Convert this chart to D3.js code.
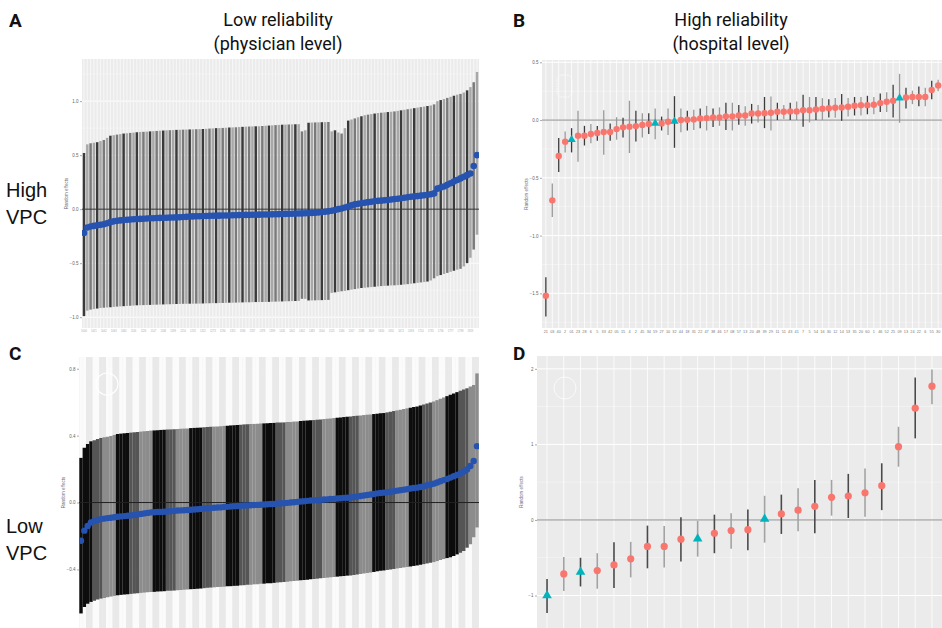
<!DOCTYPE html>
<html><head><meta charset="utf-8">
<script src="https://cdn.jsdelivr.net/npm/d3@7"></script>
<style>body{margin:0;background:#fff}svg{display:block}</style>
</head><body>
<svg id="c" width="942" height="628"></svg>
<script>
// ---------- DATA ----------
// Panel A: physician level, high VPC (estimate, lower, upper)
const aEst = [-0.22,-0.17,-0.16,-0.155,-0.15,-0.145,-0.14,-0.13,-0.12,-0.113,
-0.108,-0.104,-0.1,-0.098,-0.096,-0.094,-0.092,-0.09,-0.089,-0.087,
-0.085,-0.084,-0.082,-0.081,-0.08,-0.079,-0.078,-0.077,-0.076,-0.075,
-0.073,-0.071,-0.069,-0.067,-0.066,-0.065,-0.064,-0.063,-0.062,-0.061,
-0.06,-0.06,-0.059,-0.058,-0.058,-0.057,-0.056,-0.055,-0.054,-0.053,
-0.053,-0.052,-0.052,-0.051,-0.05,-0.05,-0.049,-0.048,-0.047,-0.046,
-0.045,-0.044,-0.043,-0.042,-0.041,-0.04,-0.039,-0.038,-0.037,-0.035,
-0.033,-0.03,-0.027,-0.024,-0.02,-0.014,-0.008,0.0,0.006,0.015,
0.025,0.035,0.044,0.05,0.055,0.06,0.065,0.069,0.073,0.077,
0.079,0.082,0.085,0.089,0.093,0.097,0.101,0.105,0.11,0.115,
0.118,0.121,0.125,0.129,0.133,0.138,0.146,0.19,0.2,0.21,
0.225,0.24,0.255,0.27,0.285,0.3,0.315,0.33,0.4,0.5];
const aHi = [0.52,0.6,0.61,0.615,0.62,0.63,0.64,0.66,0.68,0.685,
0.69,0.695,0.7,0.703,0.706,0.709,0.712,0.715,0.716,0.718,
0.72,0.722,0.724,0.726,0.728,0.73,0.731,0.732,0.734,0.735,
0.736,0.737,0.738,0.739,0.74,0.741,0.742,0.744,0.746,0.748,
0.75,0.751,0.752,0.754,0.756,0.757,0.758,0.76,0.762,0.764,
0.765,0.766,0.767,0.768,0.77,0.772,0.774,0.776,0.778,0.78,
0.782,0.783,0.784,0.785,0.786,0.787,0.72,0.73,0.8,0.802,
0.803,0.804,0.805,0.806,0.807,0.72,0.73,0.71,0.7,0.75,
0.82,0.83,0.84,0.85,0.86,0.87,0.875,0.88,0.885,0.89,
0.893,0.896,0.899,0.902,0.905,0.91,0.915,0.92,0.925,0.93,
0.935,0.94,0.945,0.95,0.955,0.96,0.97,1.0,1.01,1.02,
1.03,1.04,1.05,1.06,1.067,1.08,1.1,1.13,1.175,1.27];
const aLo = [-0.99,-0.94,-0.93,-0.925,-0.92,-0.915,-0.912,-0.91,-0.908,-0.905,
-0.902,-0.9,-0.898,-0.896,-0.894,-0.892,-0.89,-0.889,-0.888,-0.887,
-0.886,-0.885,-0.884,-0.883,-0.882,-0.881,-0.88,-0.879,-0.878,-0.877,
-0.876,-0.876,-0.875,-0.875,-0.874,-0.874,-0.873,-0.872,-0.871,-0.87,
-0.87,-0.869,-0.868,-0.867,-0.866,-0.866,-0.865,-0.864,-0.863,-0.862,
-0.862,-0.861,-0.86,-0.86,-0.859,-0.859,-0.858,-0.857,-0.856,-0.855,
-0.854,-0.853,-0.852,-0.851,-0.85,-0.849,-0.83,-0.83,-0.845,-0.845,
-0.844,-0.843,-0.842,-0.841,-0.84,-0.775,-0.77,-0.765,-0.76,-0.757,
-0.75,-0.745,-0.74,-0.735,-0.73,-0.727,-0.724,-0.721,-0.718,-0.715,
-0.712,-0.71,-0.708,-0.706,-0.705,-0.703,-0.7,-0.697,-0.694,-0.69,
-0.686,-0.682,-0.678,-0.675,-0.67,-0.66,-0.64,-0.62,-0.61,-0.6,
-0.59,-0.58,-0.57,-0.56,-0.552,-0.53,-0.5,-0.45,-0.374,-0.236];

// Panel C: physician level, low VPC
const cEst = [-0.228,-0.168,-0.14,-0.119,-0.11,-0.104,-0.099,-0.096,-0.093,-0.091,
-0.088,-0.085,-0.083,-0.081,-0.079,-0.077,-0.074,-0.071,-0.068,-0.065,
-0.062,-0.059,-0.058,-0.057,-0.056,-0.055,-0.053,-0.052,-0.05,-0.048,
-0.047,-0.046,-0.045,-0.043,-0.042,-0.04,-0.038,-0.036,-0.034,-0.032,
-0.031,-0.03,-0.029,-0.027,-0.026,-0.024,-0.022,-0.021,-0.019,-0.018,
-0.017,-0.016,-0.015,-0.014,-0.013,-0.012,-0.01,-0.009,-0.008,-0.006,
-0.005,-0.004,-0.002,0.0,0.002,0.004,0.006,0.008,0.01,0.012,
0.013,0.014,0.016,0.018,0.019,0.021,0.022,0.024,0.026,0.028,
0.029,0.03,0.033,0.036,0.039,0.042,0.045,0.048,0.051,0.055,
0.057,0.059,0.062,0.065,0.068,0.071,0.074,0.077,0.08,0.084,
0.087,0.089,0.093,0.098,0.103,0.108,0.113,0.12,0.127,0.134,
0.141,0.149,0.157,0.165,0.174,0.185,0.198,0.218,0.248,0.337];
const cHi = [0.267,0.327,0.35,0.366,0.372,0.38,0.386,0.39,0.394,0.398,
0.404,0.41,0.412,0.414,0.416,0.418,0.42,0.422,0.424,0.426,
0.428,0.43,0.431,0.432,0.434,0.435,0.436,0.437,0.438,0.44,
0.441,0.442,0.443,0.445,0.446,0.447,0.448,0.45,0.451,0.453,
0.454,0.455,0.456,0.458,0.459,0.461,0.462,0.463,0.465,0.467,
0.468,0.469,0.47,0.471,0.472,0.473,0.474,0.475,0.476,0.478,
0.478,0.479,0.481,0.482,0.484,0.485,0.487,0.489,0.49,0.492,
0.493,0.495,0.497,0.499,0.501,0.503,0.505,0.507,0.509,0.511,
0.513,0.515,0.517,0.519,0.521,0.523,0.525,0.527,0.529,0.531,
0.533,0.535,0.539,0.543,0.547,0.551,0.555,0.559,0.563,0.567,
0.571,0.574,0.58,0.586,0.592,0.598,0.604,0.612,0.62,0.628,
0.636,0.644,0.652,0.66,0.668,0.676,0.683,0.693,0.703,0.772];
const cLo = [-0.663,-0.624,-0.605,-0.594,-0.587,-0.58,-0.574,-0.57,-0.566,-0.562,
-0.558,-0.554,-0.552,-0.55,-0.548,-0.546,-0.544,-0.542,-0.54,-0.538,
-0.536,-0.535,-0.534,-0.532,-0.531,-0.53,-0.528,-0.527,-0.526,-0.524,
-0.523,-0.521,-0.52,-0.518,-0.517,-0.515,-0.514,-0.512,-0.51,-0.508,
-0.507,-0.505,-0.504,-0.503,-0.501,-0.5,-0.498,-0.497,-0.495,-0.494,
-0.492,-0.491,-0.489,-0.488,-0.486,-0.485,-0.483,-0.482,-0.48,-0.478,
-0.477,-0.475,-0.473,-0.471,-0.469,-0.467,-0.465,-0.463,-0.461,-0.459,
-0.457,-0.455,-0.453,-0.451,-0.449,-0.447,-0.445,-0.443,-0.441,-0.439,
-0.437,-0.436,-0.433,-0.43,-0.427,-0.424,-0.421,-0.418,-0.415,-0.411,
-0.408,-0.406,-0.403,-0.4,-0.397,-0.394,-0.391,-0.388,-0.385,-0.382,
-0.379,-0.376,-0.372,-0.368,-0.364,-0.36,-0.356,-0.35,-0.344,-0.338,
-0.332,-0.327,-0.32,-0.31,-0.3,-0.29,-0.27,-0.25,-0.208,-0.149];

// Panel B: hospital level, high VPC
const bLabels = ["21","03","40","2","01","23","28","6","5","33","42","05","15","4","2","45","34","59","27","10","32","44","18","31","22","47","38","46","17","08","57","13","20","48","39","29","11","51","43","41","7","5","54","16","30","12","14","53","35","20","60","1","46","52","25","09","13","24","22","6","55","30"];
const bEst = [-1.52,-0.695,-0.31,-0.187,-0.17,-0.135,-0.135,-0.12,-0.112,-0.103,
-0.103,-0.078,-0.063,-0.057,-0.052,-0.043,-0.034,-0.029,-0.029,-0.014,
-0.011,0.0,0.003,0.006,0.014,0.017,0.023,0.023,0.032,0.032,
0.04,0.04,0.057,0.057,0.06,0.063,0.072,0.072,0.075,0.075,
0.086,0.086,0.092,0.098,0.103,0.106,0.109,0.115,0.124,0.129,
0.129,0.132,0.147,0.158,0.167,0.19,0.195,0.2,0.2,0.2,
0.26,0.3];
const bLo = [-1.70,-0.84,-0.45,-0.28,-0.28,-0.36,-0.22,-0.2,-0.18,-0.30,
-0.18,-0.17,-0.15,-0.285,-0.185,-0.15,-0.12,-0.165,-0.09,-0.13,
-0.24,-0.105,-0.09,-0.085,-0.07,-0.09,-0.06,-0.05,-0.087,-0.09,
-0.04,-0.05,-0.03,-0.02,-0.07,-0.09,-0.0,0.01,-0.0,0.0,
-0.058,-0.02,0.0,0.0,0.023,0.02,-0.006,0.03,0.04,0.04,
0.05,0.05,0.07,0.07,0.023,-0.023,0.1,0.138,0.12,0.12,
0.18,0.25];
const bHi = [-1.36,-0.55,-0.155,-0.10,-0.07,0.08,-0.05,-0.035,-0.052,0.086,
-0.03,0.025,0.02,0.167,0.08,0.06,0.06,0.10,0.03,0.1,
0.207,0.1,0.08,0.09,0.1,0.123,0.1,0.11,0.15,0.15,
0.13,0.12,0.14,0.13,0.2,0.205,0.15,0.13,0.15,0.16,
0.22,0.2,0.2,0.19,0.18,0.19,0.225,0.19,0.2,0.2,
0.21,0.2,0.23,0.24,0.305,0.40,0.28,0.255,0.29,0.28,
0.34,0.35];
const bTriangle = [4,17,20,55];

// Panel D: hospital level, low VPC
const dEst = [-1.0,-0.714,-0.69,-0.67,-0.595,-0.515,-0.35,-0.35,-0.255,-0.25,
-0.176,-0.14,-0.128,0.013,0.08,0.13,0.18,0.30,0.317,0.36,
0.454,0.97,1.48,1.77];
const dLo = [-1.23,-0.94,-0.88,-0.91,-0.90,-0.76,-0.64,-0.63,-0.55,-0.485,
-0.44,-0.38,-0.40,-0.30,-0.185,-0.15,-0.176,0.057,0.026,0.044,
0.13,0.705,1.08,1.53];
const dHi = [-0.78,-0.49,-0.50,-0.44,-0.295,-0.29,-0.075,-0.08,0.035,-0.01,
0.07,0.09,0.137,0.32,0.335,0.42,0.53,0.53,0.61,0.68,
0.75,1.233,1.885,1.99];
const dTriangle = [0,2,9,13];

const aTicks = [1.0,0.5,0.0,-0.5,-1.0];
const bTicks = [0.5,0.0,-0.5,-1.0,-1.5];
const cTicks = [0.8,0.4,0.0,-0.4];
const dTicks = [2,1,0,-1];

// ---------- DRAW ----------
const svg = d3.select("#c");
const BLUE = "#2653b0", RED = "#f8766d", TEAL = "#00b3bd";
const tickFont = "Liberation Sans, Arial, sans-serif";

function panel(id, L, R, T, B, ydom, ticks, n, fmt){
  const g = svg.append("g");
  const x = d3.scalePoint().domain(d3.range(n)).range([L, R]).padding(0.6);
  const y = d3.scaleLinear().domain(ydom).range([B, T]);
  svg.append("clipPath").attr("id", id).append("rect")
    .attr("x", L).attr("y", T).attr("width", R - L).attr("height", B - T);
  const inner = g.append("g").attr("clip-path", `url(#${id})`);
  inner.append("rect").attr("x", L).attr("y", T).attr("width", R - L).attr("height", B - T)
    .attr("fill", "#ebebeb");
  const minor = [];
  for (let k = 0; k < ticks.length - 1; k++) minor.push((ticks[k] + ticks[k+1]) / 2);
  minor.push(ticks[0] + (ticks[0] - ticks[1]) / 2);
  minor.push(ticks[ticks.length-1] - (ticks[0] - ticks[1]) / 2);
  inner.selectAll(null).data(minor).join("line")
    .attr("x1", L).attr("x2", R).attr("y1", d => y(d)).attr("y2", d => y(d))
    .attr("stroke", "#fff").attr("stroke-width", 0.5).attr("opacity", 0.8);
  inner.selectAll(null).data(ticks).join("line")
    .attr("x1", L).attr("x2", R).attr("y1", d => y(d)).attr("y2", d => y(d))
    .attr("stroke", "#fff").attr("stroke-width", 1);
  const ax = d3.axisLeft(y).tickValues(ticks).tickSize(2).tickPadding(1.5).tickFormat(fmt);
  const ag = g.append("g").attr("transform", `translate(${L},0)`).call(ax);
  ag.select(".domain").remove();
  ag.selectAll("line").attr("stroke", "#555").attr("stroke-width", 0.5);
  ag.selectAll("text").attr("font-size", 4.5).attr("fill", "#666").attr("font-family", tickFont);
  g.append("text").attr("transform", `translate(${L - 14},${(T + B) / 2}) rotate(-90)`)
    .attr("text-anchor", "middle").attr("font-size", 4.5).attr("fill", "#6a6a80")
    .attr("font-family", tickFont).text("Random effects");
  return {x, y, inner, g};
}

// ---- Panel A ----
{
  const n = aEst.length;
  const p = panel("clipA", 82, 479, 59, 328, [-1.10, 1.39], aTicks, n, d3.format(".1f"));
  const st = p.x.step();
  p.inner.selectAll(null).data(d3.range(n)).join("line")
    .attr("x1", i => p.x(i)).attr("x2", i => p.x(i)).attr("y1", 59).attr("y2", 328)
    .attr("stroke", "#f6f6f6").attr("stroke-width", st * 0.35);
  p.inner.selectAll(null).data(d3.range(n)).join("line")
    .attr("x1", i => p.x(i)).attr("x2", i => p.x(i))
    .attr("y1", i => p.y(aLo[i])).attr("y2", i => p.y(aHi[i]))
    .attr("stroke", i => (i % 4 === 0 ? "#3a3a3a" : (i % 4 === 2 ? "#7a7a7a" : "#a8a8a8")))
    .attr("stroke-width", st * 0.75);
  p.inner.append("line").attr("x1", 82).attr("x2", 479).attr("y1", p.y(0)).attr("y2", p.y(0))
    .attr("stroke", "#333").attr("stroke-width", 1);
  p.inner.selectAll(null).data(d3.range(n)).join("circle")
    .attr("cx", i => p.x(i)).attr("cy", i => p.y(aEst[i])).attr("r", 3.3).attr("fill", BLUE);
  p.g.selectAll(null).data(d3.range(0, n, 3)).join("text")
    .attr("x", i => p.x(i)).attr("y", 332).attr("text-anchor", "middle")
    .attr("font-size", 2.6).attr("fill", "#aaa").attr("font-family", tickFont)
    .text(i => String(1000 + i * 7));
}

// ---- Panel C ----
{
  const n = cEst.length;
  const p = panel("clipC", 79, 479, 357, 628, [-0.75, 0.87], cTicks, n, d3.format(".1f"));
  const st = p.x.step();
  p.inner.selectAll(null).data(d3.range(n)).join("rect")
    .attr("x", i => p.x(i) - st / 2).attr("width", st + 0.1).attr("y", 357).attr("height", 271)
    .attr("fill", i => (i % 4 < 2 ? "#fbfbfb" : "#e9e9e9"));
  p.inner.selectAll(null).data(d3.range(n)).join("line")
    .attr("x1", i => p.x(i)).attr("x2", i => p.x(i))
    .attr("y1", i => p.y(cLo[i])).attr("y2", i => p.y(cHi[i]))
    .attr("stroke", i => { const k = i % 11; return k < 4 ? "#0d0d0d" : (k < 7 ? "#555" : "#8c8c8c"); })
    .attr("stroke-width", st + 0.1);
  p.inner.append("line").attr("x1", 79).attr("x2", 479).attr("y1", p.y(0)).attr("y2", p.y(0))
    .attr("stroke", "#222").attr("stroke-width", 1);
  p.inner.selectAll(null).data(d3.range(n)).join("circle")
    .attr("cx", i => p.x(i)).attr("cy", i => p.y(cEst[i])).attr("r", 3.2).attr("fill", BLUE);
  p.inner.append("circle").attr("cx", 107).attr("cy", 384).attr("r", 11)
    .attr("fill", "none").attr("stroke", "#fff").attr("stroke-width", 1.2).attr("opacity", 0.9);
}

// ---- Panel B ----
{
  const n = bEst.length;
  const p = panel("clipB", 542, 942, 60, 328, [-1.80, 0.52], bTicks, n, d3.format(".1f"));
  p.inner.selectAll(null).data(d3.range(n)).join("line")
    .attr("x1", i => p.x(i)).attr("x2", i => p.x(i)).attr("y1", 60).attr("y2", 328)
    .attr("stroke", "#fff").attr("stroke-width", 0.8);
  p.inner.append("line").attr("x1", 542).attr("x2", 942).attr("y1", p.y(0)).attr("y2", p.y(0))
    .attr("stroke", "#8a8a8a").attr("stroke-width", 1);
  p.inner.selectAll(null).data(d3.range(n)).join("line")
    .attr("x1", i => p.x(i)).attr("x2", i => p.x(i))
    .attr("y1", i => p.y(bLo[i])).attr("y2", i => p.y(bHi[i]))
    .attr("stroke", i => (i % 2 === 0 ? "#3c3c3c" : "#9a9a9a")).attr("stroke-width", 1.3);
  const sym = d3.symbol().type(d3.symbolTriangle).size(30);
  p.inner.selectAll(null).data(d3.range(n).filter(i => !bTriangle.includes(i))).join("circle")
    .attr("cx", i => p.x(i)).attr("cy", i => p.y(bEst[i])).attr("r", 3.2).attr("fill", RED);
  p.inner.selectAll(null).data(bTriangle).join("path").attr("d", sym)
    .attr("transform", i => `translate(${p.x(i)},${p.y(bEst[i])})`).attr("fill", TEAL);
  p.g.selectAll(null).data(d3.range(n)).join("text")
    .attr("x", i => p.x(i)).attr("y", 333).attr("text-anchor", "middle")
    .attr("font-size", 3.8).attr("fill", "#777").attr("font-family", tickFont)
    .text(i => bLabels[i]);
  p.inner.append("rect").attr("x", 557).attr("y", 75).attr("width", 15).attr("height", 22).attr("rx", 5)
    .attr("fill", "none").attr("stroke", "#fff").attr("stroke-width", 0.8).attr("stroke-dasharray", "1.5,1");
}

// ---- Panel D ----
{
  const n = dEst.length;
  const p = panel("clipD", 537, 942, 356, 628, [-1.43, 2.17], dTicks, n, d3.format("d"));
  p.inner.selectAll(null).data(d3.range(n)).join("line")
    .attr("x1", i => p.x(i)).attr("x2", i => p.x(i)).attr("y1", 356).attr("y2", 628)
    .attr("stroke", "#fff").attr("stroke-width", 0.8);
  p.inner.append("line").attr("x1", 537).attr("x2", 942).attr("y1", p.y(0)).attr("y2", p.y(0))
    .attr("stroke", "#8a8a8a").attr("stroke-width", 1);
  p.inner.selectAll(null).data(d3.range(n)).join("line")
    .attr("x1", i => p.x(i)).attr("x2", i => p.x(i))
    .attr("y1", i => p.y(dLo[i])).attr("y2", i => p.y(dHi[i]))
    .attr("stroke", i => (i % 2 === 0 ? "#4a4a4a" : "#a2a2a2")).attr("stroke-width", 1.6);
  const sym = d3.symbol().type(d3.symbolTriangle).size(40);
  p.inner.selectAll(null).data(d3.range(n).filter(i => !dTriangle.includes(i))).join("circle")
    .attr("cx", i => p.x(i)).attr("cy", i => p.y(dEst[i])).attr("r", 3.6).attr("fill", RED);
  p.inner.selectAll(null).data(dTriangle).join("path").attr("d", sym)
    .attr("transform", i => `translate(${p.x(i)},${p.y(dEst[i])})`).attr("fill", TEAL);
  p.inner.append("circle").attr("cx", 565).attr("cy", 388).attr("r", 11)
    .attr("fill", "none").attr("stroke", "#fff").attr("stroke-width", 0.8).attr("opacity", 0.9);
}

// ---------- Labels ----------
const lab = (x, y, t, size, weight, anchor, fam) => svg.append("text")
  .attr("x", x).attr("y", y).attr("font-size", size).attr("font-weight", weight)
  .attr("text-anchor", anchor).attr("font-family", fam).attr("fill", "#111").text(t);
const rob = "Roboto, 'Liberation Sans', sans-serif";
lab(9, 27, "A", 19, 700, "start", rob);
lab(513, 27, "B", 19, 700, "start", rob);
lab(9, 360, "C", 19, 700, "start", rob);
lab(513, 360, "D", 19, 700, "start", rob);
lab(278, 26, "Low reliability", 18, 400, "middle", rob);
lab(278, 50, "(physician level)", 18, 400, "middle", rob);
lab(731, 26, "High reliability", 18, 400, "middle", rob);
lab(731, 50, "(hospital level)", 18, 400, "middle", rob);
const ar = "'Liberation Sans', Arial, sans-serif";
lab(6, 197, "High", 20, 400, "start", ar);
lab(6, 224, "VPC", 20, 400, "start", ar);
lab(6, 533, "Low", 20, 400, "start", ar);
lab(6, 560, "VPC", 20, 400, "start", ar);
</script>
</body></html>
